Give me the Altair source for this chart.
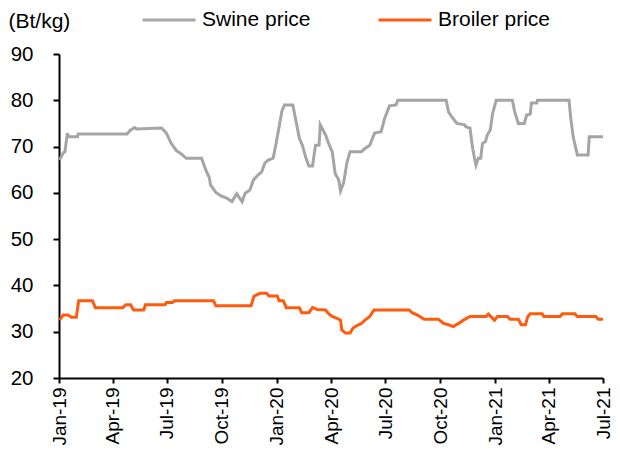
import altair as alt
import pandas as pd

FONT = "Liberation Sans"

swine_dates = [
    "2019-01-02", "2019-01-08", "2019-01-11", "2019-01-15", "2019-01-17", "2019-02-01", "2019-02-02",
    "2019-04-25", "2019-05-01", "2019-05-08", "2019-05-11", "2019-06-22", "2019-06-30", "2019-07-08",
    "2019-07-17", "2019-07-25", "2019-08-02", "2019-08-28", "2019-09-04", "2019-09-10", "2019-09-12",
    "2019-09-21", "2019-09-29", "2019-10-10", "2019-10-18", "2019-10-26", "2019-11-04", "2019-11-09",
    "2019-11-17", "2019-11-23", "2019-12-01", "2019-12-07", "2019-12-12", "2019-12-18", "2019-12-26",
    "2019-12-31", "2020-01-06", "2020-01-10", "2020-01-14", "2020-01-28", "2020-02-02", "2020-02-08",
    "2020-02-13", "2020-02-19", "2020-02-24", "2020-03-01", "2020-03-06", "2020-03-12", "2020-03-14",
    "2020-03-23", "2020-03-28", "2020-04-03", "2020-04-08", "2020-04-14", "2020-04-17", "2020-04-22",
    "2020-04-28", "2020-05-03", "2020-05-22", "2020-05-28", "2020-06-05", "2020-06-13", "2020-06-24",
    "2020-06-30", "2020-07-05", "2020-07-08", "2020-07-19", "2020-07-22", "2020-10-11", "2020-10-15",
    "2020-10-20", "2020-10-29", "2020-11-11", "2020-11-13", "2020-11-20", "2020-11-24", "2020-11-27",
    "2020-11-30", "2020-12-04", "2020-12-08", "2020-12-11", "2020-12-16", "2020-12-19", "2020-12-24",
    "2020-12-28", "2021-01-03", "2021-01-30", "2021-02-03", "2021-02-09", "2021-02-19", "2021-02-23",
    "2021-03-01", "2021-03-03", "2021-03-12", "2021-03-13", "2021-05-05", "2021-05-08", "2021-05-12",
    "2021-05-19", "2021-06-06", "2021-06-08", "2021-07-05",
]
swine_values = [
    67.1, 68.6, 68.9, 72.9, 72.1, 72.1, 72.7,
    72.7, 73.6, 74.1, 73.8, 74.0, 72.9, 70.7,
    69.1, 68.4, 67.5, 67.5, 65.0, 63.3, 61.7,
    60.1, 59.4, 58.8, 58.1, 59.8, 58.1, 59.9,
    60.6, 62.8, 63.9, 64.6, 66.4, 67.1, 67.5,
    70.7, 75.0, 77.8, 79.0, 79.0, 75.7, 71.8,
    70.3, 67.5, 65.8, 65.8, 70.3, 70.3, 74.7,
    72.5, 70.7, 68.9, 64.2, 62.8, 60.4, 62.1,
    66.7, 68.9, 68.9, 69.6, 70.3, 72.9, 73.2,
    76.1, 77.8, 78.8, 79.0, 80.0, 80.0, 77.5,
    76.5, 75.0, 74.7, 74.3, 74.0, 70.0, 67.8,
    66.0, 67.5, 67.5, 70.7, 71.1, 72.5, 73.6,
    77.2, 80.0, 80.0, 77.5, 75.0, 75.0, 76.8,
    77.0, 79.4, 79.4, 80.0, 80.0, 76.1, 72.1,
    68.2, 68.2, 72.1, 72.1,
]

broiler_dates = [
    "2019-01-02", "2019-01-08", "2019-01-16", "2019-01-22", "2019-01-30", "2019-02-03", "2019-02-26",
    "2019-03-03", "2019-04-18", "2019-04-23", "2019-05-01", "2019-05-06", "2019-05-23", "2019-05-26",
    "2019-06-28", "2019-06-30", "2019-07-10", "2019-07-14", "2019-09-17", "2019-09-21", "2019-11-19",
    "2019-11-24", "2019-12-04", "2019-12-15", "2019-12-19", "2020-01-02", "2020-01-05", "2020-01-12",
    "2020-01-17", "2020-02-08", "2020-02-12", "2020-02-24", "2020-03-01", "2020-03-09", "2020-03-23",
    "2020-03-28", "2020-04-03", "2020-04-11", "2020-04-17", "2020-04-19", "2020-04-25", "2020-05-03",
    "2020-05-08", "2020-05-17", "2020-05-22", "2020-05-28", "2020-06-05", "2020-06-12", "2020-08-10",
    "2020-08-15", "2020-08-24", "2020-09-04", "2020-09-28", "2020-10-07", "2020-10-15", "2020-10-23",
    "2020-11-01", "2020-11-09", "2020-11-20", "2020-12-17", "2020-12-21", "2020-12-31", "2021-01-05",
    "2021-01-22", "2021-01-26", "2021-02-09", "2021-02-14", "2021-02-21", "2021-02-25", "2021-03-01",
    "2021-03-21", "2021-03-24", "2021-04-20", "2021-04-24", "2021-05-15", "2021-05-19", "2021-06-19",
    "2021-06-23", "2021-07-05",
]
broiler_values = [
    32.5, 33.6, 33.6, 33.1, 33.1, 36.7, 36.7,
    35.2, 35.2, 35.8, 35.8, 34.7, 34.7, 35.8,
    35.8, 36.3, 36.3, 36.7, 36.7, 35.6, 35.6,
    37.7, 38.3, 38.3, 37.7, 37.7, 36.7, 36.7,
    35.2, 35.2, 34.1, 34.1, 35.2, 34.8, 34.7,
    33.9, 33.3, 32.9, 32.5, 30.4, 29.7, 29.7,
    30.8, 31.5, 31.8, 32.5, 33.3, 34.7, 34.7,
    34.1, 33.6, 32.7, 32.7, 31.8, 31.5, 31.1,
    31.8, 32.5, 33.3, 33.3, 33.8, 32.5, 33.3,
    33.3, 32.7, 32.7, 31.5, 31.5, 33.3, 33.9,
    33.9, 33.3, 33.3, 33.9, 33.9, 33.3, 33.3,
    32.7, 32.7,
]

series_names = ["Swine price", "Broiler price"]
series_colors = ["#A5A5A5", "#FF5B0F"]
y_ticks = [20, 30, 40, 50, 60, 70, 80, 90]
tick_years_months = [(2019, 1), (2019, 4), (2019, 7), (2019, 10), (2020, 1), (2020, 4),
                     (2020, 7), (2020, 10), (2021, 1), (2021, 4), (2021, 7)]

df = pd.concat([
    pd.DataFrame({"date": [d + "T00:00:00" for d in swine_dates], "value": swine_values,
                  "series": series_names[0]}),
    pd.DataFrame({"date": [d + "T00:00:00" for d in broiler_dates], "value": broiler_values,
                  "series": series_names[1]}),
])

x_ticks = [alt.DateTime(year=y, month=m, date=1) for y, m in tick_years_months]

chart = alt.Chart(df).mark_line(strokeWidth=3, clip=True).encode(
    x=alt.X("date:T",
            scale=alt.Scale(domain=[alt.DateTime(year=2019, month=1, date=1),
                                    alt.DateTime(year=2021, month=7, date=1)]),
            axis=alt.Axis(values=x_ticks, format="%b-%y", labelAngle=-90, title=None,
                          grid=False, labelFontSize=19, labelPadding=4, tickSize=5,
                          labelFont=FONT, labelColor="#000", domainColor="#000",
                          tickColor="#000", domainWidth=2, tickWidth=2, labelOverlap=False,
                          labelBound=False, labelFlush=False)),
    y=alt.Y("value:Q",
            scale=alt.Scale(domain=[20, 90], nice=False, zero=False),
            axis=alt.Axis(values=y_ticks, title="(Bt/kg)", titleAngle=0, titleAlign="left",
                          titleBaseline="middle", titleX=-51, titleY=-33,
                          titleFont=FONT, titleFontSize=21, titleFontWeight="normal",
                          titleColor="#000", grid=False, labelFontSize=20.5, labelPadding=20,
                          tickSize=6, labelFont=FONT, labelColor="#000", domainColor="#000",
                          tickColor="#000", domainWidth=2, tickWidth=2)),
    color=alt.Color("series:N",
                    scale=alt.Scale(domain=series_names, range=series_colors),
                    legend=alt.Legend(title=None, orient="none", direction="horizontal",
                                      legendX=82, legendY=-62, symbolType="stroke",
                                      symbolSize=2809, symbolStrokeWidth=3,
                                      labelFont=FONT, labelFontSize=21, labelColor="#000",
                                      labelOffset=5, columnPadding=61)),
    order=alt.Order("date:T"),
).properties(
    width=544,
    height=324,
    padding={"left": 51, "top": 46, "right": 9, "bottom": 70},
    autosize=alt.AutoSizeParams(type="none"),
).configure_view(stroke=None)

chart.save("out.html", embed_options={"renderer": "svg", "actions": False})
